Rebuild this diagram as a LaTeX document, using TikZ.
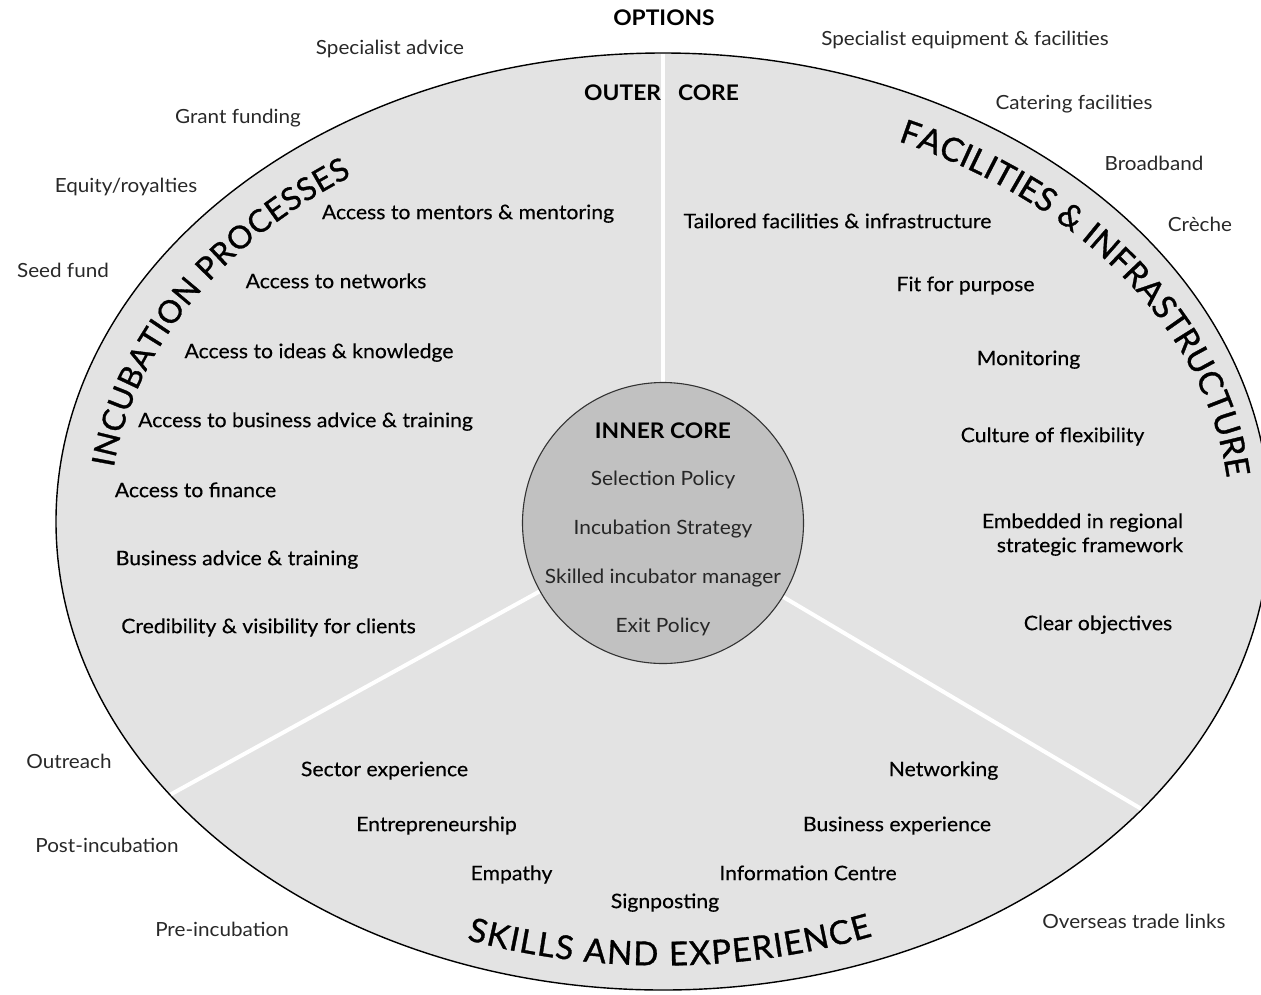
\documentclass[tikz,border=0pt]{standalone}
\usepackage{fontspec}
\setmainfont{Lato}[FakeStretch=1.06]
\newfontfamily\medfamily{Lato}[FakeStretch=1.06, FakeBold=0.3]
\newfontfamily\rimfamily{Lato}[FakeBold=1.0]
\usetikzlibrary{shapes.geometric,decorations.text}
\definecolor{outerfill}{RGB}{227,227,227}
\definecolor{innerfill}{RGB}{193,193,193}
\definecolor{optgray}{RGB}{40,40,40}
\newcommand{\titlefont}{\rimfamily\fontsize{33}{37}\selectfont}
\newcommand{\titlefontsmall}{\rimfamily\fontsize{31.5}{36}\selectfont}

\begin{document}
\begin{tikzpicture}[x=1pt,y=1pt,
  every node/.style={inner sep=0pt, outer sep=0pt},
  opt/.style={font=\fontsize{19.5}{23}\selectfont, text=optgray, text height=14pt, text depth=0pt},
  item/.style={font=\medfamily\fontsize{20}{24}\selectfont, text=black, text height=14.3pt, text depth=0pt},
  coreitem/.style={font=\fontsize{19.7}{23}\selectfont, text=black!85, text height=14.1pt, text depth=0pt},
  head/.style={font=\bfseries\fontsize{21.5}{25}\selectfont, text=black, text height=15.4pt, text depth=0pt},
  divider/.style={draw=white, line width=4pt},
  curved/.style={decorate, decoration={text along path, text align=fit to path, text={#1}}},
]
\useasboundingbox (0,0) rectangle (1261,-994);
\clip (0,0) rectangle (1261,-994);

% outer core and inner core
\coordinate (c) at (663,-521.5);
\node[ellipse, draw=black, line width=1.4pt, fill=outerfill,
      minimum width=1214pt, minimum height=937pt] (outer) at (c) {};
\draw[divider, shorten >=1pt] (663,-523) ++(90:140) coordinate (d1) -- (outer.90);
\draw[divider, shorten >=1pt] (663,-523) ++(209:140) coordinate (d2) -- (outer.209);
\draw[divider, shorten >=1pt] (663,-523) ++(-31.6:140) coordinate (d3) -- (outer.-31.6);
\node[circle, draw=black!80, line width=1.1pt, fill=innerfill,
      minimum size=281pt] (inner) at (663,-523) {};

% titles along the rim
\begin{scope}[shift={(c)}]
  \path[curved={|\titlefontsmall|INCUBATION PROCESSES}] (172.6:554 and 417.5) arc[start angle=172.6, end angle=124.2, x radius=554, y radius=417.5];
  \path[curved={|\titlefont|FACILITIES {\&} INFRASTRUCTURE}] (65.5:567 and 418) arc[start angle=65.5, end angle=6, x radius=567, y radius=418];
  \path[curved={|\titlefont|SKILLS AND EXPERIENCE}] (250.4:585 and 444) arc[start angle=250.4, end angle=291, x radius=585, y radius=444];
\end{scope}

% headings
\node[head] (options) at (664,-18) {OPTIONS};
\node[head, anchor=east] (outerA) at (661,-93) {OUTER};
\node[head, anchor=west] (outerB) at (678,-93) {CORE};
\node[head] (innerh) at (663,-431) {INNER CORE};

% inner core
\node[coreitem] (i1) at (663,-478) {Selection Policy};
\node[coreitem] (i2) at (663,-527) {Incubation Strategy};
\node[coreitem] (i3) at (663,-576) {Skilled incubator manager};
\node[coreitem] (i4) at (663,-625) {Exit Policy};

% options around the rim
\node[opt] (o1) at (390,-47) {Specialist advice};
\node[opt] (o2) at (965,-38) {Specialist equipment \& facilities};
\node[opt] (o3) at (238,-116) {Grant funding};
\node[opt] (o4) at (1074,-102) {Catering facilities};
\node[opt] (o5) at (126,-185) {Equity/royalties};
\node[opt] (o6) at (1154,-163) {Broadband};
\node[opt] (o7) at (63,-270) {Seed fund};
\node[opt] (o8) at (1200,-224) {Crèche};
\node[opt] (o9) at (69,-761) {Outreach};
\node[opt] (o10) at (107,-845) {Post-incubation};
\node[opt] (o11) at (222,-929) {Pre-incubation};
\node[opt] (o12) at (1134,-921) {Overseas trade links};

% incubation processes
\node[item] (p1) at (468,-212) {Access to mentors \& mentoring};
\node[item] (p2) at (336,-281) {Access to networks};
\node[item] (p3) at (319,-351) {Access to ideas \& knowledge};
\node[item] (p4) at (305.5,-420) {Access to business advice \& training};
\node[item] (p5) at (195.5,-490) {Access to finance};
\node[item] (p6) at (237,-558) {Business advice \& training};
\node[item] (p7) at (268.5,-626) {Credibility \& visibility for clients};

% facilities and infrastructure
\node[item] (f1) at (837.5,-221) {Tailored facilities \& infrastructure};
\node[item] (f2) at (965.5,-284) {Fit for purpose};
\node[item] (f3) at (1028.5,-358) {Monitoring};
\node[item] (f4) at (1052.5,-435) {Culture of flexibility};
\node[item, anchor=east] (f5) at (1183,-521) {Embedded in regional};
\node[item, anchor=east] (f6) at (1183,-545) {strategic framework};
\node[item] (f7) at (1098,-623) {Clear objectives};

% skills and experience
\node[item] (s1) at (384.5,-769) {Sector experience};
\node[item] (s2) at (943.5,-769) {Networking};
\node[item] (s3) at (436.5,-824) {Entrepreneurship};
\node[item] (s4) at (897,-824) {Business experience};
\node[item] (s5) at (511.5,-873) {Empathy};
\node[item] (s6) at (808,-873) {Information Centre};
\node[item] (s7) at (665,-901) {Signposting};
\end{tikzpicture}
\end{document}
